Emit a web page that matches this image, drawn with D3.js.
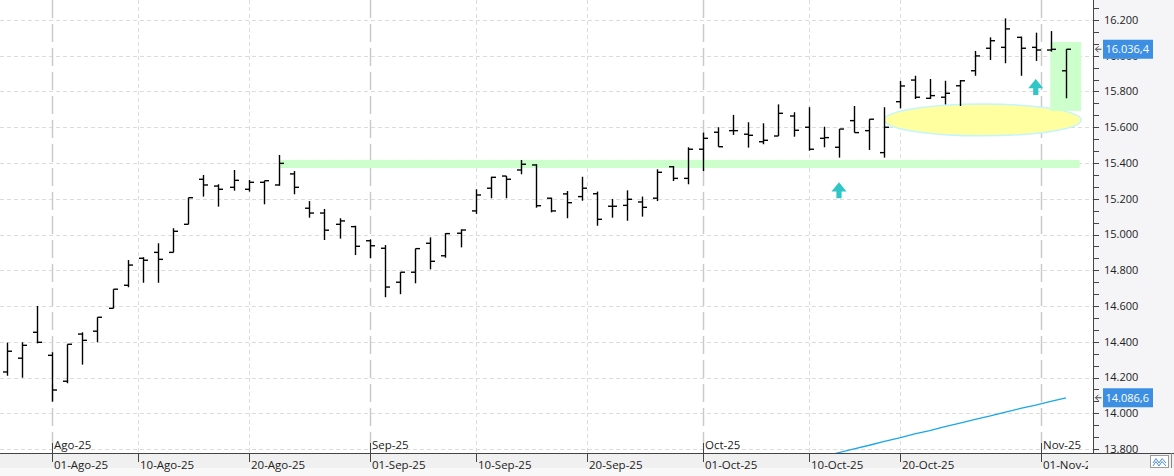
<!DOCTYPE html>
<html>
<head>
<meta charset="utf-8">
<script src="https://cdn.jsdelivr.net/npm/d3@7"></script>
<style>
body { margin: 0; background: #fff; }
svg { display: block; }
text { font-family: "Open Sans", "Noto Sans", sans-serif; }
</style>
</head>
<body>
<script>
// trading days shown on the chart
var dates = [
  "2025-07-29","2025-07-30","2025-07-31","2025-08-01","2025-08-04","2025-08-05","2025-08-06","2025-08-07","2025-08-08",
  "2025-08-11","2025-08-12","2025-08-13","2025-08-14","2025-08-15","2025-08-18","2025-08-19","2025-08-20","2025-08-21",
  "2025-08-22","2025-08-25","2025-08-26","2025-08-27","2025-08-28","2025-08-29","2025-09-01","2025-09-02","2025-09-03",
  "2025-09-04","2025-09-05","2025-09-08","2025-09-09","2025-09-10","2025-09-11","2025-09-12","2025-09-15","2025-09-16",
  "2025-09-17","2025-09-18","2025-09-19","2025-09-22","2025-09-23","2025-09-24","2025-09-25","2025-09-26","2025-09-29",
  "2025-09-30","2025-10-01","2025-10-02","2025-10-03","2025-10-06","2025-10-07","2025-10-08","2025-10-09","2025-10-10",
  "2025-10-13","2025-10-14","2025-10-15","2025-10-16","2025-10-17","2025-10-20","2025-10-21","2025-10-22","2025-10-23",
  "2025-10-24","2025-10-27","2025-10-28","2025-10-29","2025-10-30","2025-10-31","2025-11-03","2025-11-04"
];
var opens = [
  14231,14308,14453,14324,14179,14443,14459,14587,14716,14867,14900,14900,15057,15309,15271,15264,15253,15292,
  15277,15339,15147,15120,15057,15044,14965,14923,14733,14789,14951,14881,15007,15132,15259,15327,15361,15389,
  15203,15227,15212,15228,15158,15163,15182,15203,15379,15314,15477,15572,15581,15561,15519,15551,15663,15600,
  15538,15488,15637,15581,15458,15743,15864,15762,15768,15832,15916,16042,16047,16103,16047,16032,15916
];
var highs = [
  14395,14397,14600,14341,14386,14453,14537,14694,14857,14873,14951,15035,15206,15333,15281,15361,15305,15301,
  15445,15355,15187,15143,15091,15049,14973,14941,14789,14921,14984,15007,15029,15253,15323,15327,15417,15393,
  15206,15243,15323,15240,15199,15247,15212,15365,15383,15488,15570,15600,15669,15628,15622,15728,15684,15712,
  15603,15590,15719,15645,15712,15859,15888,15870,15860,15864,16027,16103,16209,16107,16129,16138,16036.4
];
var lows = [
  14210,14199,14391,14065,14168,14272,14397,14587,14705,14730,14730,14900,15057,15212,15156,15245,15240,15169,
  15273,15225,15094,14969,14977,14885,14867,14649,14666,14727,14805,14870,14928,15115,15203,15203,15337,15150,
  15124,15091,15189,15049,15094,15077,15100,15187,15299,15281,15355,15491,15557,15486,15505,15551,15547,15469,
  15488,15430,15570,15473,15430,15706,15758,15758,15728,15719,15888,15976,15958,15888,15971,16023,15762
];
var closes = [
  14347,14380,14397,14130,14386,14408,14537,14694,14829,14856,14861,15018,15206,15277,15253,15303,15292,15301,
  15398,15264,15120,15024,15076,14934,14937,14706,14789,14921,14850,15005,15025,15221,15320,15309,15393,15161,
  15132,15178,15259,15085,15158,15197,15152,15348,15314,15477,15538,15491,15581,15555,15527,15678,15583,15477,
  15542,15590,15570,15645,15600,15831,15768,15777,15790,15860,15999,16084,16150,16042,16032,16036,16036.4
];

// moving average (blue line), from 2025-10-13 on
var maStart = 54;
var maValues = [13759,13780,13801,13821,13843,13862,13884,13903,13925,13945,13966,13985,14006,14027,14046,14067,14086.6];

// axis ticks
var yTicks = [13800,14000,14200,14400,14600,14800,15000,15200,15400,15600,15800,16000,16200];
var dayTicks = ["2025-08-01","2025-08-10","2025-08-20","2025-09-01","2025-09-10","2025-09-20","2025-10-01","2025-10-10","2025-10-20","2025-11-01"];
var dayLabels = ["01-Ago-25","10-Ago-25","20-Ago-25","01-Sep-25","10-Sep-25","20-Sep-25","01-Oct-25","10-Oct-25","20-Oct-25","01-Nov-25"];
var monthTicks = ["2025-08-01","2025-09-01","2025-10-01","2025-11-01"];
var monthLabels = ["Ago-25","Sep-25","Oct-25","Nov-25"];

// drawn annotations
var bandLow = 15372, bandHigh = 15417, bandFrom = 18, bandTo = 70.9;
var ellipseAt = 64.5, ellipseMid = 15641, ellipseSpan = 6.5, ellipseHalf = 89;
var boxFrom = 68.96, boxTo = 71.0, boxTop = 16077, boxBottom = 15691;
var arrowAt = [55, 68];
var arrowTip = [15293, 15870];
var arrowBase = [15203, 15780];

var W = 1174, H = 476, plotRight = 1093, axisY = 453;

var svg = d3.select("body").append("svg").attr("width", W).attr("height", H);
var parse = d3.timeParse("%Y-%m-%d");
var dts = dates.map(parse);

var x = d3.scaleLinear().domain([0, 70]).range([6.6, 1066]);
var y = d3.scaleLinear().domain([13800, 16200]).range([449, 20]);

var es = d3.formatLocale({decimal: ",", thousands: ".", grouping: [3], currency: ["", ""]});
var fmt0 = es.format(",.0f"), fmt1 = es.format(",.1f");

// position of a calendar day, weekends spread between Friday and Monday
function xDate(s) {
  var d = parse(s);
  var i = d3.bisectRight(dts, d) - 1;
  if (+dts[i] === +d) return x(i);
  var gap = (dts[i + 1] - dts[i]) / 864e5;
  var off = (d - dts[i]) / 864e5;
  return x(i + off / gap);
}

svg.append("rect").attr("x", plotRight).attr("y", 0).attr("width", W - plotRight).attr("height", H).attr("fill", "#f5f5f7");

var defs = svg.append("defs");
defs.append("clipPath").attr("id", "plot")
  .append("rect").attr("x", 0).attr("y", 0).attr("width", plotRight).attr("height", axisY);
defs.append("clipPath").attr("id", "xlab")
  .append("rect").attr("x", 0).attr("y", axisY).attr("width", 1088).attr("height", 20);

var plot = svg.append("g").attr("clip-path", "url(#plot)");

// grid
plot.selectAll(".hg").data(yTicks).enter().append("line")
  .attr("x1", 0).attr("x2", plotRight)
  .attr("y1", function(d) { return Math.round(y(d)) + 0.5; }).attr("y2", function(d) { return Math.round(y(d)) + 0.5; })
  .attr("stroke", "#dcdcdc").attr("stroke-dasharray", "4,3");

plot.selectAll(".vg").data(dayTicks).enter().append("line")
  .attr("x1", function(d) { return Math.round(xDate(d)) + 0.5; })
  .attr("x2", function(d) { return Math.round(xDate(d)) + 0.5; })
  .attr("y1", 0).attr("y2", axisY)
  .attr("stroke", function(d) { return monthTicks.indexOf(d) >= 0 ? "#cacaca" : "#dcdcdc"; })
  .attr("stroke-width", function(d) { return monthTicks.indexOf(d) >= 0 ? 1.5 : 1; })
  .attr("stroke-dasharray", function(d) { return monthTicks.indexOf(d) >= 0 ? "18,6" : "4,3"; });

// annotations
plot.append("rect")
  .attr("x", x(bandFrom)).attr("width", x(bandTo) - x(bandFrom))
  .attr("y", y(bandHigh)).attr("height", y(bandLow) - y(bandHigh))
  .attr("fill", "#ccffcc");

plot.append("ellipse")
  .attr("cx", x(ellipseAt)).attr("cy", y(ellipseMid))
  .attr("rx", x(ellipseSpan) - x(0)).attr("ry", y(ellipseMid - ellipseHalf) - y(ellipseMid))
  .attr("fill", "#ffffa0").attr("stroke", "#c4f4ff").attr("stroke-width", 1.5);

plot.append("rect")
  .attr("x", x(boxFrom)).attr("width", x(boxTo) - x(boxFrom))
  .attr("y", y(boxTop)).attr("height", y(boxBottom) - y(boxTop))
  .attr("fill", "#ccffcc");

arrowAt.forEach(function(a, k) {
  var cx = x(a), t = y(arrowTip[k]), b = y(arrowBase[k]);
  var h = (b - t) * 0.58;
  plot.append("path")
    .attr("d", "M" + cx + "," + t + "L" + (cx + 7.5) + "," + (t + h) + "L" + (cx + 2.6) + "," + (t + h) +
      "L" + (cx + 2.6) + "," + b + "L" + (cx - 2.6) + "," + b + "L" + (cx - 2.6) + "," + (t + h) +
      "L" + (cx - 7.5) + "," + (t + h) + "Z")
    .attr("fill", "#2fc6c8");
});

// moving average
plot.append("path")
  .datum(maValues)
  .attr("d", d3.line().x(function(d, i) { return x(maStart + i); }).y(function(d) { return y(d); }))
  .attr("fill", "none").attr("stroke", "#1aa7e8").attr("stroke-width", 1.3);

// OHLC bars
var bars = plot.selectAll(".bar").data(dates).enter().append("g");
bars.append("line")
  .attr("x1", function(d, i) { return Math.round(x(i)) + 0.5; })
  .attr("x2", function(d, i) { return Math.round(x(i)) + 0.5; })
  .attr("y1", function(d, i) { return y(highs[i]); })
  .attr("y2", function(d, i) { return y(lows[i]); })
  .attr("stroke", "#000").attr("stroke-width", 1.4);
bars.append("line")
  .attr("x1", function(d, i) { return Math.round(x(i)) - 4; })
  .attr("x2", function(d, i) { return Math.round(x(i)) + 0.5; })
  .attr("y1", function(d, i) { return y(opens[i]); })
  .attr("y2", function(d, i) { return y(opens[i]); })
  .attr("stroke", "#000").attr("stroke-width", 1.4);
bars.append("line")
  .attr("x1", function(d, i) { return Math.round(x(i)) + 0.5; })
  .attr("x2", function(d, i) { return Math.round(x(i)) + 5; })
  .attr("y1", function(d, i) { return y(closes[i]); })
  .attr("y2", function(d, i) { return y(closes[i]); })
  .attr("stroke", "#000").attr("stroke-width", 1.4);

// month labels above the axis
svg.selectAll(".mt").data(monthTicks).enter().append("line")
  .attr("x1", function(d) { return Math.round(xDate(d)) + 0.5; })
  .attr("x2", function(d) { return Math.round(xDate(d)) + 0.5; })
  .attr("y1", axisY - 10).attr("y2", axisY)
  .attr("stroke", "#444");
svg.selectAll(".ml").data(monthTicks).enter().append("text")
  .attr("x", function(d) { return Math.round(xDate(d)) + 2; })
  .attr("y", axisY - 4)
  .attr("font-size", 11.5).attr("fill", "#222")
  .text(function(d, i) { return monthLabels[i]; });

// right axis
var ya = svg.append("g");
var minor = d3.range(13800 - 200, 16400, 200 / 3);
ya.selectAll("line").data(minor).enter().append("line")
  .attr("x1", plotRight).attr("x2", plotRight + 6)
  .attr("y1", function(d) { return Math.round(y(d)) + 0.5; })
  .attr("y2", function(d) { return Math.round(y(d)) + 0.5; })
  .attr("stroke", "#444");
ya.selectAll("text").data(yTicks).enter().append("text")
  .attr("x", 1104).attr("y", function(d) { return y(d); }).attr("dy", "0.36em")
  .attr("font-size", 11).attr("fill", "#222")
  .text(function(d) { return fmt0(d); });
svg.append("line").attr("x1", plotRight + 0.5).attr("x2", plotRight + 0.5).attr("y1", 0).attr("y2", H)
  .attr("stroke", "#444");

// last value tags
[closes[closes.length - 1], maValues[maValues.length - 1]].forEach(function(v) {
  var cy = y(v);
  svg.append("rect").attr("x", 1103).attr("y", cy - 9.5).attr("width", 50).attr("height", 19).attr("fill", "#3d8fe3");
  svg.append("text").attr("x", 1105.5).attr("y", cy).attr("dy", "0.36em")
    .attr("font-size", 11).attr("fill", "#fff").text(fmt1(v));
  svg.append("path")
    .attr("d", "M1101.5," + cy + "H1095.5M1098.5," + (cy - 3) + "L1095.5," + cy + "L1098.5," + (cy + 3))
    .attr("fill", "none").attr("stroke", "#444");
});

// bottom axis band
svg.append("rect").attr("x", 0).attr("y", axisY).attr("width", W).attr("height", 15).attr("fill", "#f0f0f0");
svg.append("rect").attr("x", 0).attr("y", axisY + 15).attr("width", W).attr("height", H - axisY - 15).attr("fill", "#f8f8f8");
svg.append("line").attr("x1", 0).attr("x2", W).attr("y1", axisY + 0.5).attr("y2", axisY + 0.5).attr("stroke", "#444");
var xl = svg.append("g").attr("clip-path", "url(#xlab)");
xl.selectAll(".dt").data(dayTicks).enter().append("line")
  .attr("x1", function(d) { return Math.round(xDate(d)) + 0.5; })
  .attr("x2", function(d) { return Math.round(xDate(d)) + 0.5; })
  .attr("y1", axisY).attr("y2", axisY + 9)
  .attr("stroke", "#444");
xl.selectAll(".dl").data(dayTicks).enter().append("text")
  .attr("x", function(d) { return Math.round(xDate(d)) + 2; })
  .attr("y", axisY + 16)
  .attr("font-size", 11.5).attr("fill", "#222")
  .text(function(d, i) { return dayLabels[i]; });

// small chart-type button
svg.append("rect").attr("x", 1150.5).attr("y", 455.5).attr("width", 18).attr("height", 12)
  .attr("fill", "#fff").attr("stroke", "#9a9a9a");
svg.append("path").attr("d", "M1153,463L1156,458.5L1159,463L1162,458.5L1166,463M1153,466L1156,461.5L1159,466L1162,461.5L1166,466")
  .attr("fill", "none").attr("stroke", "#4a8fd8");
svg.append("line").attr("x1", 1171.5).attr("x2", 1171.5).attr("y1", axisY).attr("y2", 468).attr("stroke", "#888");
</script>
</body>
</html>
